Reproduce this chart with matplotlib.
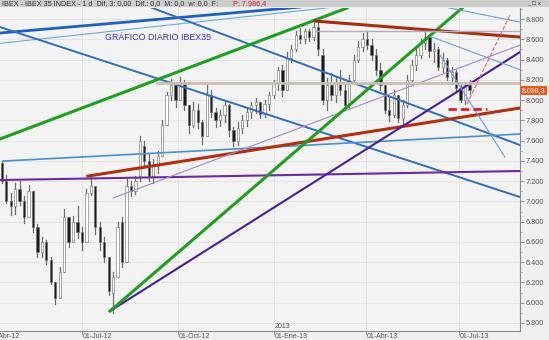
import numpy as np
import matplotlib
matplotlib.use("Agg")
import matplotlib.pyplot as plt
from matplotlib.patches import Rectangle

plt.rcParams['font.family'] = ['Liberation Sans', 'DejaVu Sans']

# bars every 3 trading days, x = trading days from 02-Jul-2012
bar_x = np.arange(-54, 262, 3)
opens = [7380, 7200, 7000, 6950, 7120, 7000, 6850, 7100, 6750, 6500,
         6600, 6420, 6200, 6050, 6300, 6850, 6600, 6800, 6700, 6600,
         7080, 7150, 6750, 6600, 6450, 6100, 6250, 6800, 6400, 7150,
         7100, 7250, 7550, 7400, 7250, 7350, 7450, 7750, 8050, 8150,
         8000, 8180, 7950, 7750, 7900, 7780, 7650, 8050, 7880, 7800,
         7850, 7950, 7700, 7600, 7720, 7800, 7880, 7950, 7980, 7860,
         7960, 8050, 8170, 8300, 8100, 8420, 8500, 8640, 8600, 8680,
         8620, 8720, 8450, 8000, 8150, 8050, 8180, 8100, 7950, 8200,
         8400, 8520, 8600, 8540, 8450, 8300, 8150, 7900, 7850, 8050,
         7820, 7950, 8200, 8350, 8450, 8560, 8620, 8480, 8500, 8330,
         8400, 8230, 8280, 8120, 8000, 8150]
highs = [7400, 7260, 7080, 7180, 7200, 7050, 7160, 7100, 6780, 6650,
         6620, 6450, 6200, 6350, 6930, 6850, 6860, 6950, 6750, 7120,
         7240, 7100, 6800, 6650, 6450, 6300, 6800, 6850, 7220, 7200,
         7250, 7650, 7600, 7480, 7420, 7500, 7800, 8080, 8210, 8180,
         8230, 8200, 7950, 7980, 7960, 7800, 8150, 8100, 7920, 7900,
         8000, 7960, 7730, 7780, 7850, 7920, 7980, 8020, 7980, 8000,
         8080, 8200, 8330, 8350, 8470, 8540, 8680, 8710, 8700, 8700,
         8760, 8770, 8500, 8220, 8270, 8230, 8300, 8150, 8250, 8450,
         8580, 8660, 8680, 8600, 8500, 8370, 8150, 8030, 8100, 8050,
         8000, 8250, 8400, 8500, 8600, 8670, 8640, 8560, 8520, 8460,
         8420, 8330, 8300, 8150, 8180, 8200]
lows = [7180, 6980, 6870, 6880, 6960, 6790, 6880, 6700, 6450, 6450,
        6380, 6180, 5990, 6050, 6300, 6550, 6600, 6640, 6520, 6600,
        7060, 6680, 6520, 6400, 6080, 5900, 6250, 6350, 6400, 7050,
        7070, 7200, 7350, 7200, 7180, 7280, 7450, 7750, 8000, 7930,
        8000, 7900, 7680, 7730, 7720, 7570, 7650, 7830, 7730, 7740,
        7780, 7650, 7550, 7560, 7680, 7740, 7820, 7870, 7820, 7830,
        7900, 8020, 8100, 8040, 8100, 8380, 8480, 8560, 8560, 8580,
        8590, 8450, 7960, 7900, 8000, 7980, 8050, 7910, 7920, 8180,
        8380, 8480, 8500, 8400, 8250, 8100, 7870, 7790, 7830, 7780,
        7750, 7930, 8150, 8300, 8420, 8500, 8430, 8380, 8300, 8280,
        8200, 8160, 8080, 7980, 7960, 8060]
closes = [7200, 7000, 6950, 7120, 7000, 6850, 7100, 6750, 6500, 6600,
          6420, 6200, 6050, 6300, 6850, 6600, 6800, 6700, 6600, 7080,
          7150, 6750, 6600, 6450, 6120, 6250, 6750, 6400, 7150, 7100,
          7200, 7600, 7400, 7250, 7350, 7450, 7750, 8050, 8150, 8000,
          8180, 7950, 7750, 7900, 7780, 7650, 8050, 7880, 7800, 7850,
          7950, 7700, 7600, 7720, 7800, 7880, 7950, 7980, 7860, 7960,
          8050, 8170, 8300, 8100, 8420, 8500, 8640, 8600, 8680, 8620,
          8720, 8500, 8000, 8150, 8050, 8180, 8100, 7950, 8200, 8400,
          8520, 8600, 8540, 8450, 8300, 8150, 7900, 7850, 8050, 7820,
          7950, 8200, 8350, 8450, 8560, 8620, 8480, 8500, 8330, 8400,
          8230, 8280, 8120, 8000, 8150, 8100]

# trend lines: (x0, y0, x1, y1, colour, width, style)
trend_lines = [
    (-55.2, 8662, 146.8, 8918, '#1f5fc0', 2.0, '-'),
    (-55.2, 8560, 170.0, 8918, '#6aa8e0', 0.8, '-'),
    (45.8, 8918, 295, 7556, '#2f6fc0', 1.4, '-'),
    (-55.2, 8721, 295, 7043, '#2f6fc0', 1.4, '-'),
    (-53.2, 7398, 295, 7665, '#4a90d0', 1.2, '-'),
    (-55.2, 7211, 295, 7300, '#6a2aa0', 1.5, '-'),
    (4.0, 7250, 295, 7922, '#b0300f', 2.2, '-'),
    (20.9, 7033, 295, 8543, '#a888c8', 0.8, '-'),
    (18.9, 5918, 295, 8474, '#4a1ea0', 1.5, '-'),
    (18.9, 5918, 256, 8909, '#1f9f1f', 2.2, '-'),
    (-55.2, 7616, 178.5, 8909, '#1f9f1f', 2.2, '-'),
    (156.9, 8780, 295, 8622, '#a0300f', 2.2, '-'),
    (156.9, 8682, 295, 8682, '#b8a8c8', 1.0, '-'),
    (50.5, 8168, 295, 8168, '#cbbcae', 2.0, '-'),
    (241.1, 8928, 295, 8770, '#6aa0d8', 0.8, '-'),
    (235.7, 8622, 295, 8300, '#6aa0d8', 0.8, '-'),
    (241.1, 8445, 284.8, 7438, '#6aa0d8', 0.8, '-'),
    (259.3, 7961, 288.2, 8839, '#f06060', 0.8, '--'),
    (246.5, 7912, 272.7, 7912, '#e02020', 2.0, (0, (3, 1.5))),
]

tick_pos = [-63, 0, 65, 129, 191, 254]
tick_lab = ['01-Abr-12', '01-Jul-12', '01-Oct-12', '01-Ene-13', '01-Abr-13', '01-Jul-13']
y_ticks = list(range(5800, 8801, 200))

fig = plt.figure(figsize=(5.49, 3.40), dpi=100, facecolor='#efefef')
ax = fig.add_axes([0, 9 / 340, 520 / 549, 323 / 340])
ax.set_facecolor('#f3f3f3')

for yv in y_ticks:
    ax.axhline(yv, color='#e2e2e2', lw=0.6, zorder=0)
for xv in tick_pos:
    ax.axvline(xv, color='#e2e2e2', lw=0.6, zorder=0)

# candles
for x, o, h, l, c in zip(bar_x, opens, highs, lows, closes):
    ax.plot([x, x], [l, h], color='#6e6e6e', lw=0.9, zorder=2)
    lo_b, hi_b = min(o, c), max(o, c)
    face = '#1a1a1a' if c < o else '#ffffff'
    ax.add_patch(Rectangle((x - 0.75, lo_b), 1.5, max(hi_b - lo_b, 8),
                           facecolor=face, edgecolor='#6e6e6e', lw=0.4, zorder=3))

for x0, y0, x1, y1, col, lw, ls in trend_lines:
    ax.plot([x0, x1], [y0, y1], color=col, lw=lw, ls=ls, zorder=4)

ax.text(15.5, 8622, 'GRÁFICO DIARIO IBEX35', color='#3434c0', fontsize=6.4,
        va='center', zorder=5)

# axes look
for s in ['top', 'left']:
    ax.spines[s].set_visible(False)
ax.spines['right'].set_color('#8a8a8a')
ax.spines['bottom'].set_color('#8a8a8a')
ax.spines['right'].set_linewidth(0.8)
ax.spines['bottom'].set_linewidth(0.8)
ax.yaxis.tick_right()
ax.set_yticks(y_ticks)
ax.set_yticklabels(['{:,}'.format(v).replace(',', '.') for v in y_ticks])
ax.set_yticks(range(5800, 8901, 100), minor=True)
ax.tick_params(axis='y', which='major', labelsize=5.3, colors='#8a8a8a',
               labelcolor='#555555', length=3, width=0.6, pad=1)
ax.tick_params(axis='y', which='minor', length=1.5, width=0.5, colors='#8a8a8a')
ax.set_xticks(tick_pos)
ax.set_xticklabels([])
ax.tick_params(axis='x', length=3, width=0.6, colors='#8a8a8a')
ax.set_xlim(-55.2, 295)
ax.set_ylim(5721, 8909)
for xp, lab in zip(tick_pos, tick_lab):
    ax.text(xp + 0.5, -0.006, lab, transform=ax.get_xaxis_transform(),
            fontsize=5, color='#555555', ha='left', va='top', clip_on=False)
ax.text(129.5, 0.004, '2013', transform=ax.get_xaxis_transform(),
        fontsize=5, color='#555555', ha='left', va='bottom')

# last price tag
ax.text(1.004, 8098, '8.098,3', transform=ax.get_yaxis_transform(), fontsize=5,
        color='white', va='center', ha='left',
        bbox=dict(boxstyle='square,pad=0.15', fc='#e85a1e', ec='none'))

# window title bar
fig.patches.append(Rectangle((0, 1 - 7 / 340), 1, 7 / 340, transform=fig.transFigure,
                             facecolor='#cdcdcd', edgecolor='none'))
fig.text(0.003, 1 - 3.5 / 340, 'IBEX - IBEX 35 INDEX - 1 d  Dif. 3: 0,00  Dif.: 0,0  M: 0,0  w: 0,0  F:',
         fontsize=5.2, color='#333333', va='center')
fig.text(0.424, 1 - 3.5 / 340, 'P: 7.986,4', fontsize=5.2, color='#d02020', va='center')
fig.text(0.985, 1 - 3.5 / 340, '_ □ x', fontsize=4.5, color='#333333', va='center', ha='right')

fig.savefig('out.png', dpi=100, facecolor=fig.get_facecolor())
